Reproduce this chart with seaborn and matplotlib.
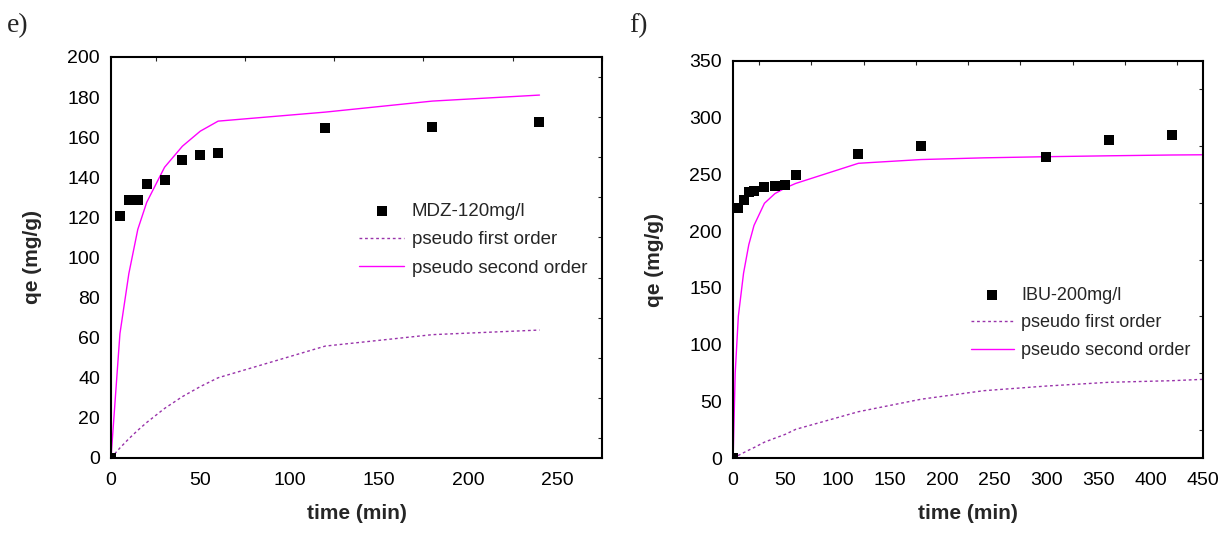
import matplotlib
matplotlib.use('Agg')
import matplotlib.pyplot as plt
import seaborn as sns
from matplotlib.ticker import MultipleLocator

sns.set_style('white')
plt.rcParams['font.family'] = ['Liberation Sans', 'DejaVu Sans']

# panel e) MDZ-120mg/l
mdz_t = [0, 5, 10, 15, 20, 30, 40, 50, 60, 120, 180, 240]
mdz_qe = [0, 120.5, 128.5, 128.5, 136.5, 138.5, 148.5, 151, 152, 164.5, 165, 167.5]
mdz_pfo = [0, 5, 9.6, 13.8, 17.7, 24.7, 30.6, 35.6, 40, 55.8, 61.5, 63.8]
mdz_pso = [0, 62, 92, 114, 127.5, 145, 155.5, 163, 168, 172.5, 178, 181]

# panel f) IBU-200mg/l
ibu_t = [0, 5, 10, 15, 20, 30, 40, 50, 60, 120, 180, 300, 360, 420]
ibu_qe = [0, 220, 227, 234, 235.5, 239, 240, 241, 249, 268, 274.5, 265.5, 280.5, 284.5]
ibu_line_t = [0, 2, 5, 10, 15, 20, 30, 40, 50, 60, 120, 180, 240, 300, 360, 420, 450]
ibu_pfo = [0, 1, 2.5, 4.9, 7.2, 9.4, 14.2, 17.7, 21.1, 25.5, 41, 52, 59.5, 63.6, 66.9, 68.3, 69.5]
ibu_pso = [0, 75, 125, 163, 188, 205, 224.5, 233, 238, 242, 259.7, 263, 264.5, 265.5, 266.3, 267, 267.2]

fig = plt.figure(figsize=(12.28, 5.35), dpi=100)
ax1 = fig.add_axes([0.0904, 0.144, 0.3998, 0.7495])
ax2 = fig.add_axes([0.597, 0.1434, 0.3827, 0.7431])

pfo_color = '#9933aa'
pso_color = '#ff00ff'


def draw_panel(ax, t_pts, qe_pts, t_line, pfo, pso, label, xmax, xstep, ymax, ystep):
    sns.scatterplot(x=t_pts, y=qe_pts, ax=ax, marker='s', color='black', s=48,
                    edgecolor='black', linewidth=0, label=label, zorder=3)
    sns.lineplot(x=t_line, y=pfo, ax=ax, color=pfo_color, linestyle=(0, (2, 2)),
                 linewidth=1.0, label='pseudo first order', sort=False)
    sns.lineplot(x=t_line, y=pso, ax=ax, color=pso_color, linewidth=1.0,
                 label='pseudo second order', sort=False)
    ax.set_xlim(0, xmax)
    ax.set_ylim(0, ymax)
    ax.xaxis.set_major_locator(MultipleLocator(xstep))
    ax.xaxis.set_minor_locator(MultipleLocator(xstep / 2))
    ax.yaxis.set_major_locator(MultipleLocator(ystep))
    ax.yaxis.set_minor_locator(MultipleLocator(ystep / 2))
    ax.tick_params(which='major', direction='in', length=6, width=1,
                   labelsize=14, colors='black')
    ax.tick_params(axis='x', which='major', pad=10)
    ax.tick_params(axis='y', which='major', pad=8)
    ax.tick_params(which='minor', direction='in', length=3, width=0.8)
    ax.tick_params(which='both', top=True, right=True, labeltop=False, labelright=False)
    ax.tick_params(axis='x', which='major', top=False)
    ax.tick_params(axis='y', which='major', right=False)
    for s in ax.spines.values():
        s.set_color('black')
        s.set_linewidth(1.5)
    ax.set_xlabel('time (min)', fontsize=15, fontweight='bold', labelpad=11)
    ax.set_ylabel('qe (mg/g)', fontsize=15, fontweight='bold', labelpad=18)


draw_panel(ax1, mdz_t, mdz_qe, mdz_t, mdz_pfo, mdz_pso, 'MDZ-120mg/l', 275, 50, 200, 20)
draw_panel(ax2, ibu_t, ibu_qe, ibu_line_t, ibu_pfo, ibu_pso, 'IBU-200mg/l', 450, 50, 350, 50)

leg_kw = dict(loc='upper left', frameon=False, markerscale=1.0,
              handlelength=2.4, handletextpad=0.4, labelspacing=0.6, borderaxespad=0)
ax1.legend(bbox_to_anchor=(0.49, 0.655), fontsize=13.5, **leg_kw)
ax2.legend(bbox_to_anchor=(0.49, 0.45), fontsize=13, **leg_kw)

fig.text(0.006, 0.94, 'e)', fontsize=20, family=['Liberation Serif', 'DejaVu Serif'])
fig.text(0.512, 0.94, 'f)', fontsize=20, family=['Liberation Serif', 'DejaVu Serif'])

fig.savefig('out.png', dpi=100)
